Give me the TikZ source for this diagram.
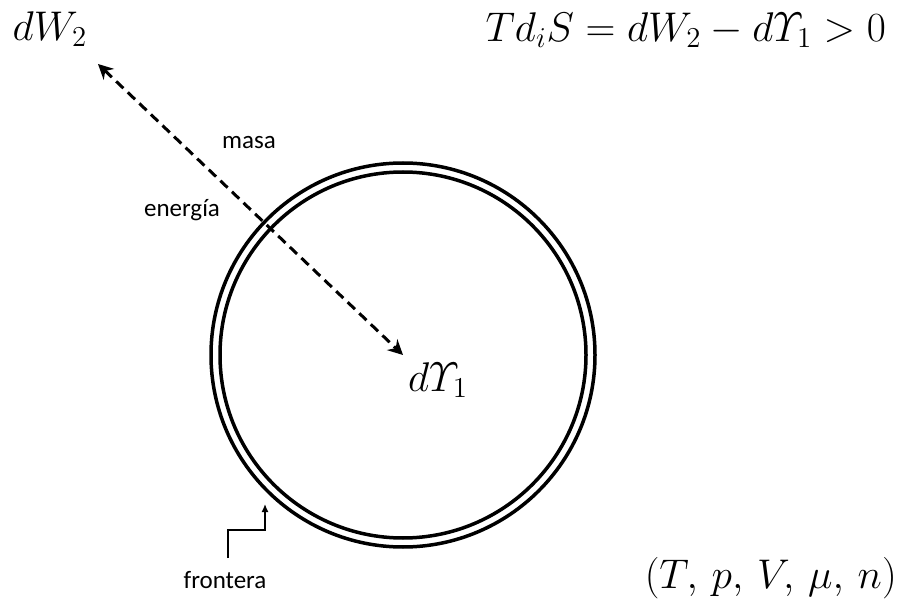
\documentclass[tikz,border=0pt]{standalone}
\usepackage{amsmath}
\usepackage{graphicx}
\usepackage{fontspec}
\setmainfont{Carlito}
\usetikzlibrary{arrows.meta}
\newcommand{\mymathlarge}[1]{\scalebox{2}{\fontsize{20}{22}\selectfont$#1$}}
\begin{document}
\begin{tikzpicture}[x=1pt,y=-1pt,
  mathlbl/.style={inner sep=0pt},
  txt/.style={font=\fontsize{25}{28}\selectfont, inner sep=0pt},
  ring/.style={line width=3.5pt},
  flow/.style={line width=3pt, dash pattern=on 10pt off 6pt,
     {Stealth[length=15pt,width=15pt,inset=5pt]}-{Stealth[length=15pt,width=15pt,inset=5pt]}},
  pointer/.style={line width=1.4pt, -{Latex[length=8pt,width=7pt]}}]
\useasboundingbox (0,0) rectangle (899,601);
\fill[white] (0,0) rectangle (899,601);
% boundary
\coordinate (c) at (403,355);
\draw[ring] (c) circle[radius=192];
\draw[ring] (c) circle[radius=183];
% labels
\node[mathlbl] (dw) at (50,29) {\mymathlarge{dW_2}};
\node[mathlbl, anchor=east] (eq) at (886,30) {\mymathlarge{Td_iS = dW_2 - d\varUpsilon_1 > 0}};
\node[mathlbl] (dy) at (438,380) {\mymathlarge{d\varUpsilon_1}};
\node[mathlbl, anchor=east] (st) at (897,578) {\mymathlarge{(T,\,p,\,V,\,\mu,\,n)}};
\node[txt] (masa) at (249,143) {masa};
\node[txt] (en) at (182,210) {energía};
\node[txt] (fr) at (225,580) {frontera};
% flow arrow
\coordinate (out) at (98,64);
\draw[flow] (out) -- (c);
% boundary pointer
\coordinate (ft) at (265,504);
\draw[pointer] ([xshift=3pt,yshift=13pt]fr.north) |- ([yshift=-26pt]ft) -- (ft);
\end{tikzpicture}
\end{document}
